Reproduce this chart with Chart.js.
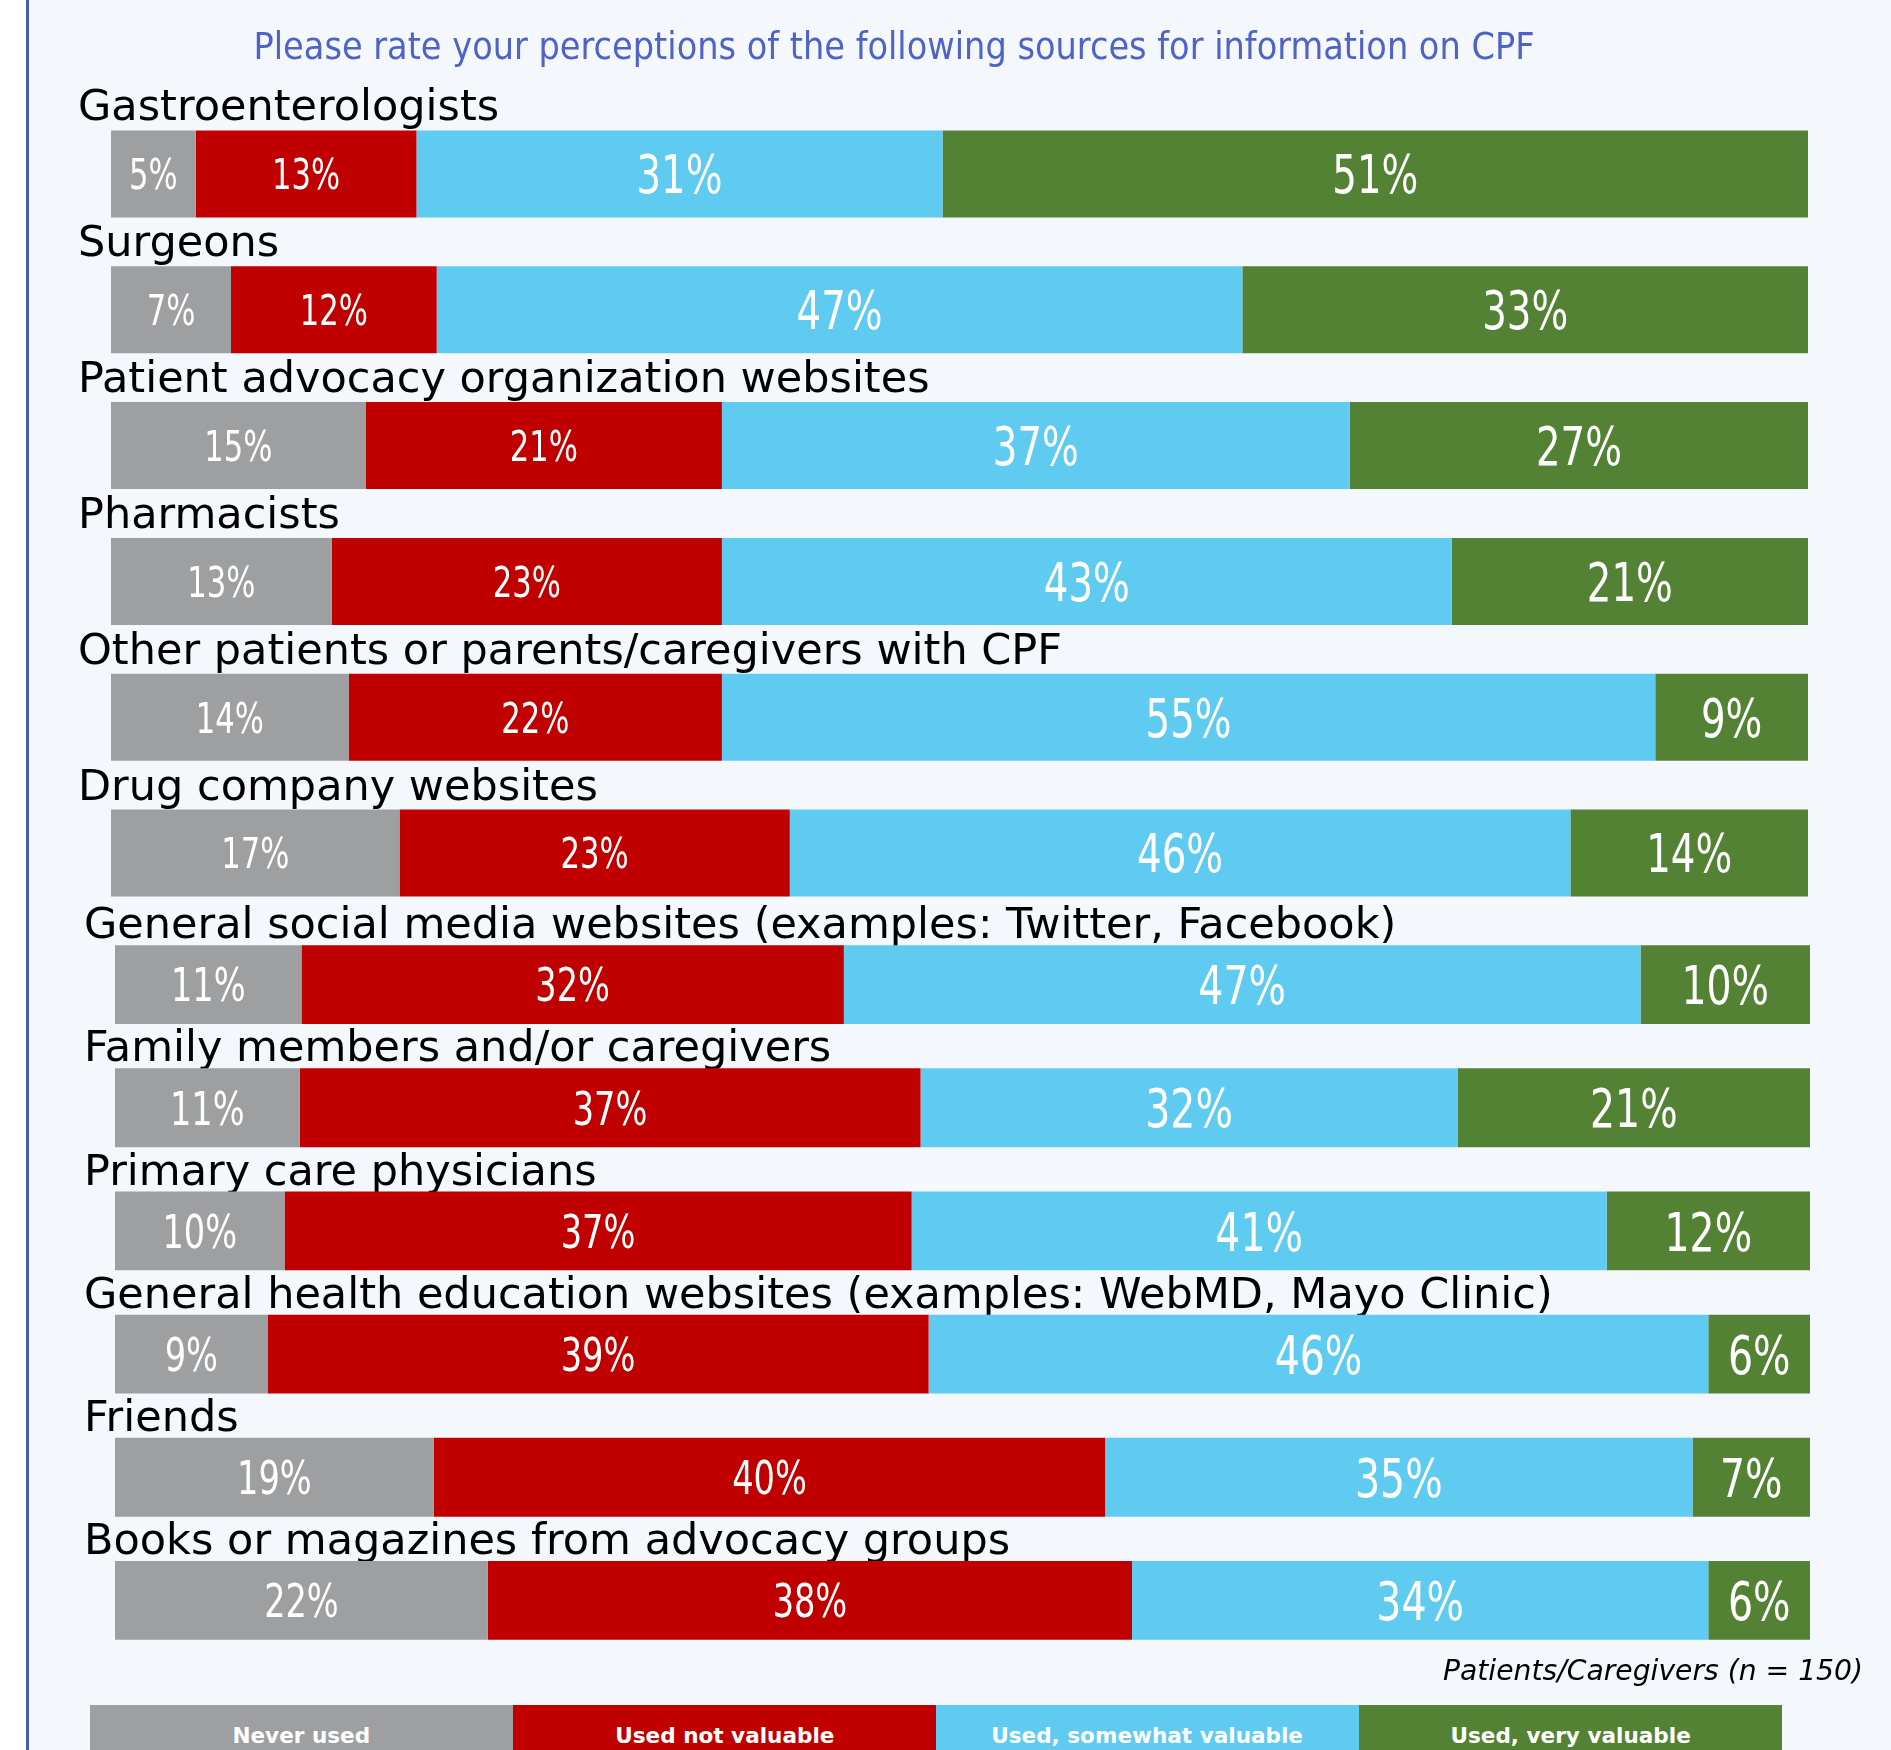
<!DOCTYPE html>
<html>
<head>
<meta charset="utf-8">
<script src="https://cdn.jsdelivr.net/npm/chart.js@4.4.1/dist/chart.umd.min.js"></script>
<style>
html,body{margin:0;padding:0;}
body{width:1891px;height:1750px;overflow:hidden;position:relative;background:#ffffff;}
#panel{position:absolute;left:26px;top:0;width:1865px;height:1750px;background:#F4F7FC;border-left:3px solid #4A5BAA;box-sizing:border-box;}
canvas{position:absolute;left:0;}
#cA{top:0;}
#cB{top:880px;}
#legend{position:absolute;left:90px;top:1705px;display:flex;}
#legend div{width:423px;height:60px;box-sizing:border-box;padding-top:18px;line-height:22px;color:#fff;font:bold 22px 'DejaVu Sans';text-align:center;white-space:nowrap;}
#legend span{display:inline-block;transform:scaleX(0.98);}
</style>
</head>
<body>
<div id="panel"></div>
<canvas id="cA" width="1891" height="935"></canvas>
<canvas id="cB" width="1891" height="870"></canvas>
<div id="legend"></div>
<script>
// ---- data ----
const titleText = 'Please rate your perceptions of the following sources for information on CPF';
const footnote = 'Patients/Caregivers (n = 150)';
const seriesNames = ['Never used', 'Used not valuable', 'Used, somewhat valuable', 'Used, very valuable'];
const sourcesTop = [
  'Gastroenterologists',
  'Surgeons',
  'Patient advocacy organization websites',
  'Pharmacists',
  'Other patients or parents/caregivers with CPF',
  'Drug company websites'
];
const sourcesBottom = [
  'General social media websites (examples: Twitter, Facebook)',
  'Family members and/or caregivers',
  'Primary care physicians',
  'General health education websites (examples: WebMD, Mayo Clinic)',
  'Friends',
  'Books or magazines from advocacy groups'
];
const neverUsed        = [5, 7, 15, 13, 14, 17, 11, 11, 10, 9, 19, 22];
const notValuable      = [13, 12, 21, 23, 22, 23, 32, 37, 37, 39, 40, 38];
const somewhatValuable = [31, 47, 37, 43, 55, 46, 47, 32, 41, 46, 35, 34];
const veryValuable     = [51, 33, 27, 21, 9, 14, 10, 21, 12, 6, 7, 6];

// ---- styles ----
const colors = ['#9E9FA1', '#C00000', '#5FCBF1', '#548235'];
const FONT = "'DejaVu Sans'";
const series = [neverUsed, notValuable, somewhatValuable, veryValuable];

function drawScaled(ctx, text, x, y, sx, align) {
  ctx.save();
  ctx.translate(x, y);
  ctx.scale(sx, 1);
  ctx.textAlign = align;
  ctx.fillText(text, 0, 0);
  ctx.restore();
}

const textPlugin = {
  id: 'rowText',
  beforeDatasetsDraw(chart, args, o) {
    const ctx = chart.ctx;
    const meta = chart.getDatasetMeta(0);
    ctx.save();
    ctx.textBaseline = 'alphabetic';
    ctx.fillStyle = '#000';
    ctx.font = o.size + 'px ' + FONT;
    chart.data.labels.forEach((lab, i) => {
      const el = meta.data[i];
      const top = el.y - el.height / 2;
      drawScaled(ctx, lab, o.x, top - o.off, o.sx, 'left');
    });
    (o.extra || []).forEach(t => {
      ctx.font = t.font;
      ctx.fillStyle = t.color;
      const w = ctx.measureText(t.text).width;
      const sx = t.width / w;
      drawScaled(ctx, t.text, t.x, t.y, sx, t.align);
    });
    ctx.restore();
  },
  afterDatasetsDraw(chart, args, o) {
    const ctx = chart.ctx;
    ctx.save();
    ctx.fillStyle = '#fff';
    ctx.textBaseline = 'alphabetic';
    chart.data.datasets.forEach((ds, s) => {
      const meta = chart.getDatasetMeta(s);
      const size = s < 2 ? o.small : o.large;
      ctx.font = size + 'px ' + FONT;
      meta.data.forEach((el, i) => {
        const cx = (el.x + el.base) / 2;
        const cy = el.y + size * 0.729 / 2;
        drawScaled(ctx, ds.rawValues[i] + '%', cx, cy, o.sxData, 'center');
      });
    });
    ctx.restore();
  }
};

function makeChart(id, cats, offset, pad, textOpts) {
  const n = cats.length;
  const rows = [];
  for (let i = 0; i < n; i++) rows.push(series.map(a => a[offset + i]));
  const datasets = seriesNames.map((name, s) => ({
    label: name,
    data: rows.map(r => r[s] / r.reduce((a, b) => a + b, 0) * 100),
    rawValues: rows.map(r => r[s]),
    backgroundColor: colors[s],
    borderWidth: 0,
    barPercentage: 0.64,
    categoryPercentage: 1
  }));
  return new Chart(document.getElementById(id), {
    type: 'bar',
    data: { labels: cats, datasets },
    options: {
      indexAxis: 'y',
      responsive: false,
      animation: false,
      events: [],
      layout: { padding: pad },
      scales: {
        x: { stacked: true, min: 0, max: 100, display: false },
        y: { stacked: true, display: false }
      },
      plugins: {
        legend: { display: false },
        tooltip: { enabled: false },
        rowText: textOpts
      }
    },
    plugins: [textPlugin]
  });
}

makeChart('cA', sourcesTop, 0, { left: 111, right: 83, top: 106, bottom: 14 }, {
  x: 78, off: 10, size: 43, sx: 1, small: 42, large: 53, sxData: 0.73,
  extra: [{ text: titleText, font: '37px ' + FONT, color: '#4F63C6', x: 894, y: 59, width: 1281, align: 'center' }]
});
makeChart('cB', sourcesBottom, 6, { left: 115, right: 81, top: 43, bottom: 88 }, {
  x: 84, off: 7, size: 43, sx: 1, small: 46, large: 54, sxData: 0.73,
  extra: [{ text: footnote, font: 'italic 28px ' + FONT, color: '#000', x: 1863, y: 800, width: 420, align: 'right' }]
});

// legend
const leg = document.getElementById('legend');
seriesNames.forEach((name, s) => {
  const d = document.createElement('div');
  d.style.background = colors[s];
  const sp = document.createElement('span');
  sp.textContent = name;
  d.appendChild(sp);
  leg.appendChild(d);
});
</script>
</body>
</html>
